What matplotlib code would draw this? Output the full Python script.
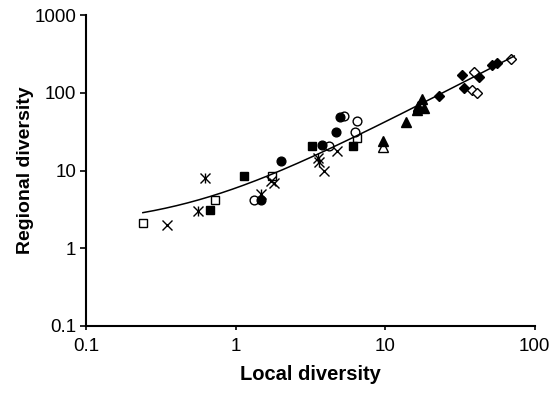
import numpy as np
import matplotlib.pyplot as plt

plt.rcParams['font.family'] = ['Liberation Sans', 'DejaVu Sans']

# data (local diversity, regional diversity)
open_sq_x = [0.24, 0.73, 1.75, 6.5]
open_sq_y = [2.1, 4.2, 8.4, 26]
cross_x = [0.35, 1.72, 1.8, 3.9, 4.8]
cross_y = [2.0, 7.4, 7.0, 10, 18]
aster_x = [0.62, 0.56, 1.47, 3.55, 3.6]
aster_y = [8.1, 3.0, 5.0, 14.5, 13]
fill_sq_x = [0.67, 1.14, 3.24, 6.1]
fill_sq_y = [3.1, 8.4, 20.5, 21]
open_circ_x = [1.32, 4.2, 5.3, 6.5, 6.25]
open_circ_y = [4.2, 21, 50, 44, 31]
fill_circ_x = [1.47, 2.0, 3.8, 4.7, 5.0]
fill_circ_y = [4.2, 13.3, 21.5, 31, 49]
fill_tri_x = [9.7, 13.7, 16.2, 16.7, 17.7, 18.3]
fill_tri_y = [24, 42, 60, 67, 84, 63]
open_tri_x = [9.7, 16.5]
open_tri_y = [20, 66]
fill_dia_x = [22.9, 32.7, 33.6, 42.6, 52, 56]
fill_dia_y = [90, 168, 114, 160, 226, 240]
open_dia_x = [39.2, 38.2, 41, 69]
open_dia_y = [186, 108, 100, 272]

# linear trend line (Regional = a + b * Local)
trend_a = 1.9
trend_b = 4.05
trend_xmin, trend_xmax = 0.24, 73

fig = plt.figure(figsize=(5.53, 3.98), dpi=100)
ax = fig.add_axes([0.1555, 0.181, 0.8115, 0.781])

ms = 5.8
ax.plot(open_sq_x, open_sq_y, 's', ms=ms, mfc='white', mec='black', mew=1.0, ls='none')
ax.plot(cross_x, cross_y, 'x', ms=ms + 1, color='black', mew=1.0, ls='none')
ax.plot(aster_x, aster_y, 'x', ms=ms + 1, color='black', mew=1.0, ls='none')
ax.plot(aster_x, aster_y, '|', ms=ms + 2, color='black', mew=1.0, ls='none')
ax.plot(fill_sq_x, fill_sq_y, 's', ms=ms, color='black', ls='none')
ax.plot(open_circ_x, open_circ_y, 'o', ms=ms + 0.5, mfc='white', mec='black', mew=1.0, ls='none')
ax.plot(fill_circ_x, fill_circ_y, 'o', ms=ms + 0.5, color='black', ls='none')
ax.plot(open_tri_x, open_tri_y, '^', ms=ms + 1, mfc='white', mec='black', mew=1.0, ls='none')
ax.plot(fill_tri_x, fill_tri_y, '^', ms=ms + 1, color='black', ls='none')
ax.plot(fill_dia_x, fill_dia_y, 'D', ms=ms - 0.5, color='black', ls='none')
ax.plot(open_dia_x, open_dia_y, 'D', ms=ms - 0.5, mfc='white', mec='black', mew=1.0, ls='none')

tx = np.geomspace(trend_xmin, trend_xmax, 200)
ax.plot(tx, trend_a + trend_b * tx, color='black', lw=1.1)

ax.set_xscale('log')
ax.set_yscale('log')
ax.set_xlim(0.1, 100)
ax.set_ylim(0.1, 1000)
ax.set_xticks([0.1, 1, 10, 100])
ax.set_xticklabels(['0.1', '1', '10', '100'])
ax.set_yticks([0.1, 1, 10, 100, 1000])
ax.set_yticklabels(['0.1', '1', '10', '100', '1000'])
ax.minorticks_off()
ax.tick_params(axis='both', direction='out', width=1.2, labelsize=13.5)
ax.tick_params(axis='y', length=4, pad=3)
ax.tick_params(axis='x', length=3, pad=6)

for s in ['top', 'right']:
    ax.spines[s].set_visible(False)
for s in ['left', 'bottom']:
    ax.spines[s].set_linewidth(1.5)

ax.set_xlabel('Local diversity', fontsize=14.5, fontweight='bold')
ax.set_ylabel('Regional diversity', fontsize=14, fontweight='bold')
ax.xaxis.set_label_coords(0.5, -0.127)
ax.yaxis.set_label_coords(-0.115, 0.5)

fig.savefig('out.png', dpi=100)
